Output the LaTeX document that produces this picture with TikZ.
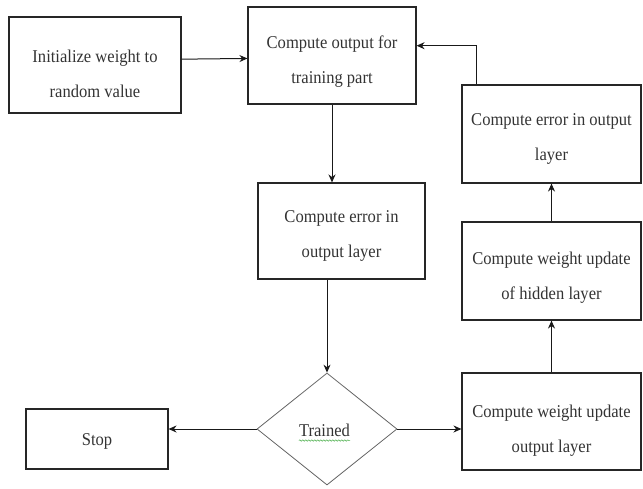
\documentclass[tikz,border=0pt]{standalone}
\usepackage{fontspec}
\setmainfont{Liberation Serif}[FakeStretch=0.92]
\usetikzlibrary{shapes.geometric,arrows.meta,calc,decorations.pathmorphing}
\begin{document}
\begin{tikzpicture}[x=1pt,y=-1pt,
  box/.style={draw=black!85,line width=1.1pt,rectangle,inner sep=0pt},
  txt/.style={align=center,font=\fontsize{18}{35}\selectfont,text=black!80,inner sep=0pt},
  arr/.style={draw=black!90,line width=1pt,-{Stealth[length=8pt,width=7pt]}},
  ln/.style={draw=black!90,line width=1pt}]
\useasboundingbox (0,0) rectangle (643,488);

% boxes
\node[box,minimum width=172pt,minimum height=96pt] (b1) at (95,65) {};
\node[box,minimum width=168pt,minimum height=97pt] (b2) at (332,55.5) {};
\node[box,minimum width=179pt,minimum height=98pt] (b3) at (551.5,134) {};
\node[box,minimum width=167pt,minimum height=96pt] (b4) at (341.5,231) {};
\node[box,minimum width=179pt,minimum height=98pt] (b5) at (551.5,271) {};
\node[box,minimum width=179pt,minimum height=97pt] (b6) at (551.5,421.5) {};
\node[box,minimum width=142pt,minimum height=60pt] (stop) at (97,439) {};
\node[draw=black!60,line width=0.8pt,diamond,aspect=1.25,inner sep=0pt,
      minimum width=140pt,minimum height=112pt] (d) at (327,429) {};

% texts
\node[txt] (t1) at ([yshift=-9pt]b1.center) {Initialize weight to\\random value};
\node[txt] (t2) at ([yshift=-6pt]b2.center) {Compute output for\\training part};
\node[txt] (t3) at ([yshift=-5pt]b3.center) {Compute error in output\\layer};
\node[txt] (t4) at ([yshift=-5pt]b4.center) {Compute error in\\output layer};
\node[txt] (t5) at ([yshift=-7pt]b5.center) {Compute weight update\\of hidden layer};
\node[txt] (t6) at ([yshift=-9pt]b6.center) {Compute weight update\\output layer};
\node[txt] (ts) at ([yshift=-2pt]stop.center) {Stop};
\node[txt] (td) at ([xshift=-2.5pt,yshift=-1pt]d.center) {Trained};
\draw[green!55!black!70,line width=0.5pt,decorate,
      decoration={snake,amplitude=0.7pt,segment length=3pt}]
  ([yshift=-4pt]td.south west) -- ([yshift=-4pt]td.south east);

% connectors
\draw[arr] ($(b1.north east)!0.44!(b1.south east)$) -- ($(b2.north west)!0.53!(b2.south west)$);
\draw[arr] (b2.south) -- (b2.south |- b4.north);
\draw[arr] (d.north |- b4.south) -- (d.north);
\draw[arr] (d.west) -- (stop.east |- d.west);
\draw[arr] (d.east) -- (b6.west |- d.east);
\draw[arr] (b6.north) -- (b5.south);
\draw[arr] (b5.north) -- (b3.south);
\draw[arr] ([xshift=15pt]b3.north west) |- ($(b2.north east)!0.4!(b2.south east)$);
\end{tikzpicture}
\end{document}
